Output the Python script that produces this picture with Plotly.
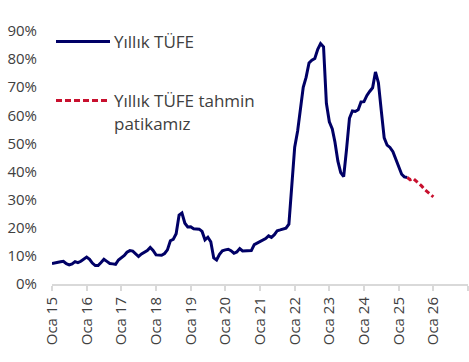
import plotly.graph_objects as go
import pandas as pd

# Actual annual CPI (%), monthly Jan 2015 - Apr 2025
actual_start = "2015-01-01"
actual_values = [
    7.24, 7.55, 7.61, 7.91, 8.09, 7.20, 6.81, 7.14, 7.95, 7.58, 8.10, 8.81,
    9.58, 8.78, 7.46, 6.57, 6.58, 7.64, 8.79, 8.05, 7.28, 7.16, 7.00, 8.53,
    9.22, 10.13, 11.29, 11.87, 11.72, 10.90, 9.79, 10.68, 11.20, 11.90, 12.98, 11.92,
    10.35, 10.26, 10.23, 10.85, 12.15, 15.39, 15.85, 17.90, 24.52, 25.24, 21.62, 20.30,
    20.35, 19.67, 19.71, 19.50, 18.71, 15.72, 16.65, 15.01, 9.26, 8.55, 10.56, 11.84,
    12.15, 12.37, 11.86, 10.94, 11.39, 12.62, 11.76, 11.77, 11.75, 11.89, 14.03, 14.60,
    14.97, 15.61, 16.19, 17.14, 16.59, 17.53, 18.95, 19.25, 19.58, 19.89, 21.31, 36.08,
    48.69, 54.44, 61.14, 69.97, 73.50, 78.62, 79.60, 80.21, 83.45, 85.51, 84.39, 64.27,
    57.68, 55.18, 50.51, 43.68, 39.59, 38.21, 47.83, 58.94, 61.53, 61.36, 61.98, 64.77,
    64.86, 67.07, 68.50, 69.80, 75.45, 71.60, 61.78, 51.97, 49.38, 48.58, 47.09, 44.38,
    42.12, 39.05, 38.10, 37.86,
]

# Forecast path (%), monthly Apr 2025 - Jan 2026
forecast_start = "2025-04-01"
forecast_values = [37.86, 37.1, 37.6, 36.8, 35.8, 34.8, 33.6, 32.6, 31.8, 31.0]

tick_dates = pd.date_range("2015-01-01", "2027-01-01", freq="YS")
tick_labels = ["Oca 15", "Oca 16", "Oca 17", "Oca 18", "Oca 19", "Oca 20",
               "Oca 21", "Oca 22", "Oca 23", "Oca 24", "Oca 25", "Oca 26", ""]
y_ticks = [0, 10, 20, 30, 40, 50, 60, 70, 80, 90]
y_labels = ["0%", "10%", "20%", "30%", "40%", "50%", "60%", "70%", "80%", "90%"]

series_names = ["Yıllık TÜFE", "Yıllık TÜFE tahmin", "patikamız"]

BLUE = "#000066"
RED = "#C8102E"
TEXT = "#404040"
FONT = "Open Sans"

actual_x = pd.date_range(actual_start, periods=len(actual_values), freq="MS")
forecast_x = pd.date_range(forecast_start, periods=len(forecast_values), freq="MS")

fig = go.Figure()
fig.add_trace(go.Scatter(x=actual_x, y=actual_values, mode="lines",
                         line=dict(color=BLUE, width=3), name=series_names[0],
                         showlegend=False))
fig.add_trace(go.Scatter(x=forecast_x, y=forecast_values, mode="lines",
                         line=dict(color=RED, width=3, dash="5px,3px"),
                         name=series_names[1] + " " + series_names[2],
                         showlegend=False))

W, H = 469, 362
L, R, T, B = 52, 1, 31, 78
pw, ph = W - L - R, H - T - B

def px(x):
    return (x - L) / pw

def py(y):
    return (H - B - y) / ph

# custom legend
fig.add_shape(type="line", xref="paper", yref="paper", x0=px(56), x1=px(110),
              y0=py(41.5), y1=py(41.5), line=dict(color=BLUE, width=3))
fig.add_shape(type="line", xref="paper", yref="paper", x0=px(56), x1=px(110),
              y0=py(100.5), y1=py(100.5), line=dict(color=RED, width=3, dash="6px,3px"))
fig.add_annotation(xref="paper", yref="paper", x=px(112), y=py(41.5), text=series_names[0],
                   showarrow=False, xanchor="left", yanchor="middle",
                   font=dict(family=FONT, size=17, color=TEXT))
fig.add_annotation(xref="paper", yref="paper", x=px(112), y=py(100.5), text=series_names[1],
                   showarrow=False, xanchor="left", yanchor="middle",
                   font=dict(family=FONT, size=17, color=TEXT))
fig.add_annotation(xref="paper", yref="paper", x=px(112), y=py(123.5), text=series_names[2],
                   showarrow=False, xanchor="left", yanchor="middle",
                   font=dict(family=FONT, size=17, color=TEXT))

fig.update_layout(
    width=W, height=H,
    margin=dict(l=L, r=R, t=T, b=B),
    paper_bgcolor="white", plot_bgcolor="white",
    font=dict(family=FONT, size=15, color=TEXT),
    showlegend=False,
)
fig.update_xaxes(
    range=[tick_dates[0], tick_dates[-1]],
    tickmode="array", tickvals=tick_dates, ticktext=tick_labels, tickangle=-90,
    showgrid=False, zeroline=False, automargin=False,
    showline=True, linecolor="#d9d9d9", linewidth=2,
    ticks="outside", ticklen=5, tickwidth=1.5, tickcolor="#d9d9d9",
    tickfont=dict(family=FONT, size=15, color=TEXT),
)
fig.update_yaxes(
    range=[0, 90], tickmode="array", tickvals=y_ticks, ticktext=y_labels,
    showgrid=False, zeroline=False, showline=False, automargin=False,
    ticklabelstandoff=14,
    tickfont=dict(family=FONT, size=15, color=TEXT),
)

fig.write_html("out.html", config={"displayModeBar": False},
               post_script="document.body.style.margin='0';")
